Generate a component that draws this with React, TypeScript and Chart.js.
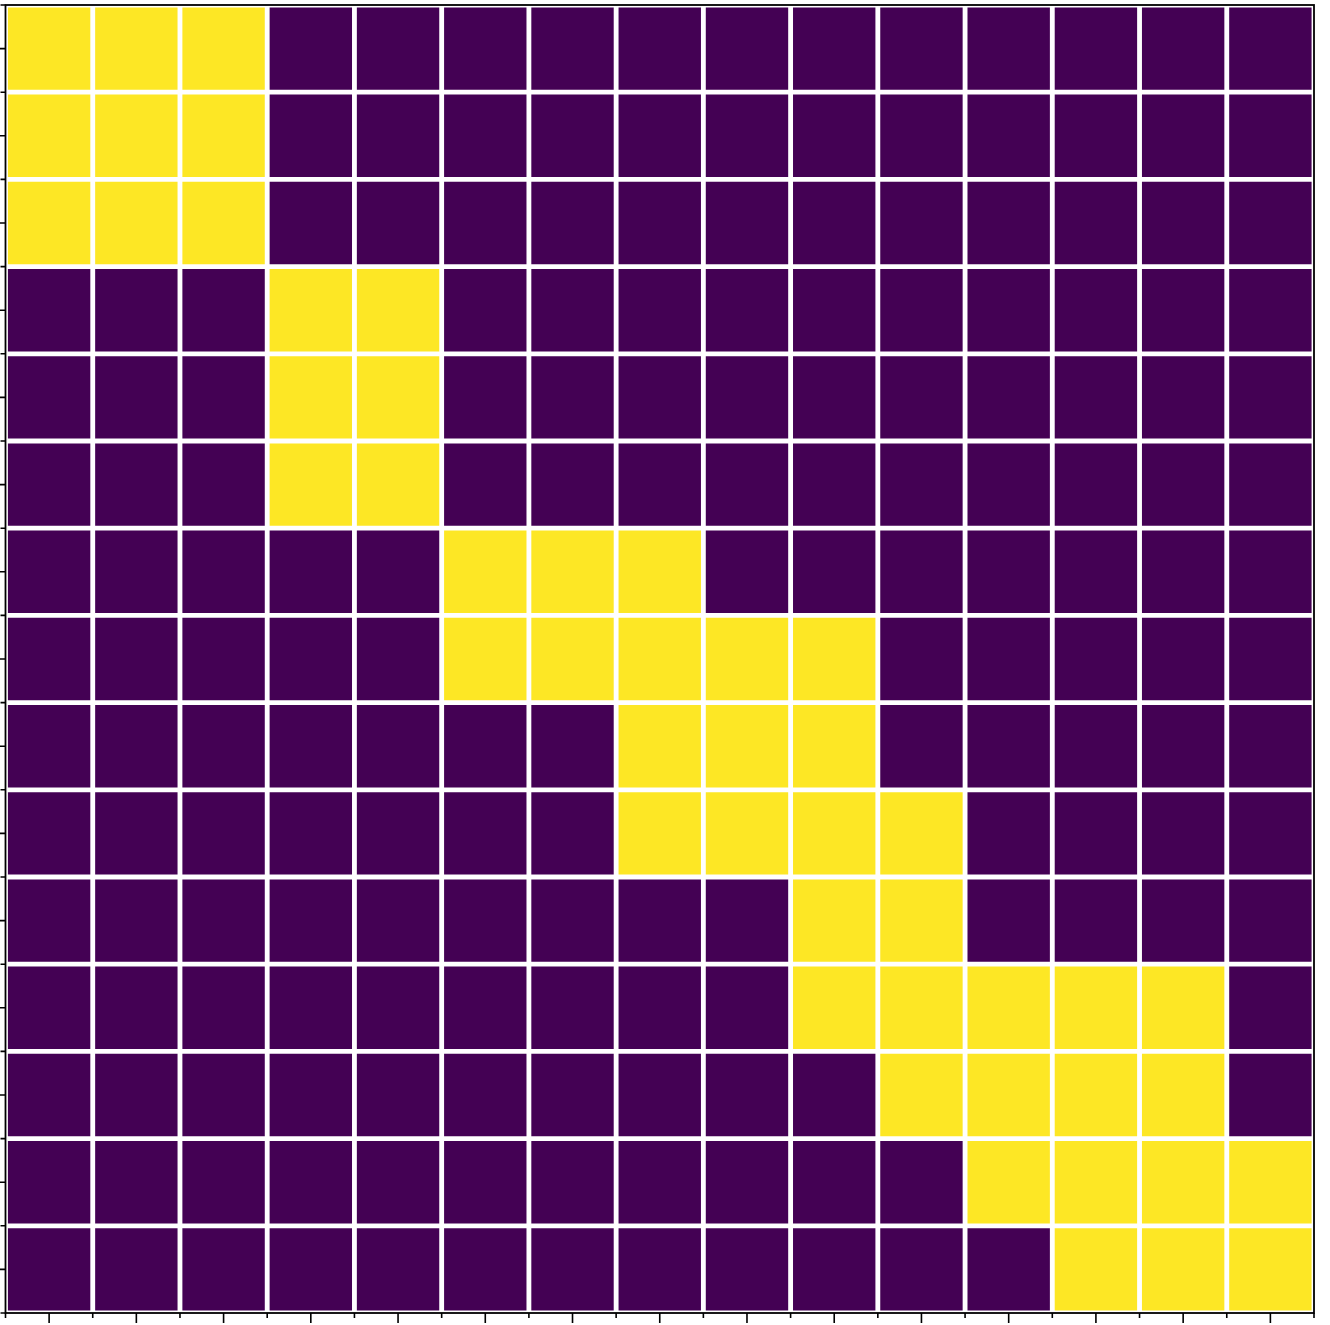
import React, { useEffect, useRef } from "react";
import { Chart, registerables } from "chart.js";

Chart.register(...registerables);

const colLabels: string[] = ["0","1","2","3","4","5","6","7","8","9","10","11","12","13","14"];
const rowLabels: string[] = ["0","1","2","3","4","5","6","7","8","9","10","11","12","13","14"];

// 1 = yellow (high), 0 = purple (low); rows top to bottom
const row0 = [1,1,1,0,0,0,0,0,0,0,0,0,0,0,0];
const row1 = [1,1,1,0,0,0,0,0,0,0,0,0,0,0,0];
const row2 = [1,1,1,0,0,0,0,0,0,0,0,0,0,0,0];
const row3 = [0,0,0,1,1,0,0,0,0,0,0,0,0,0,0];
const row4 = [0,0,0,1,1,0,0,0,0,0,0,0,0,0,0];
const row5 = [0,0,0,1,1,0,0,0,0,0,0,0,0,0,0];
const row6 = [0,0,0,0,0,1,1,1,0,0,0,0,0,0,0];
const row7 = [0,0,0,0,0,1,1,1,1,1,0,0,0,0,0];
const row8 = [0,0,0,0,0,0,0,1,1,1,0,0,0,0,0];
const row9 = [0,0,0,0,0,0,0,1,1,1,1,0,0,0,0];
const row10 = [0,0,0,0,0,0,0,0,0,1,1,0,0,0,0];
const row11 = [0,0,0,0,0,0,0,0,0,1,1,1,1,1,0];
const row12 = [0,0,0,0,0,0,0,0,0,0,1,1,1,1,0];
const row13 = [0,0,0,0,0,0,0,0,0,0,0,1,1,1,1];
const row14 = [0,0,0,0,0,0,0,0,0,0,0,0,1,1,1];

const matrix: number[][] = [row0,row1,row2,row3,row4,row5,row6,row7,row8,row9,row10,row11,row12,row13,row14];

const HIGH = "#fde725";
const LOW = "#440154";

const framePlugin = {
  id: "frameTicks",
  afterDraw(chart: any) {
    const { ctx, chartArea } = chart;
    const xs = chart.scales.x;
    const ys = chart.scales.y;
    const { left, right, top, bottom } = chartArea;
    ctx.save();
    ctx.strokeStyle = "#000";
    ctx.lineWidth = 1.8;
    ctx.strokeRect(left, top, right - left, bottom - top);
    ctx.lineWidth = 1.6;
    ctx.beginPath();
    const n = colLabels.length;
    for (let i = 0; i < n; i++) {
      const c = xs.getPixelForValue(i);
      ctx.moveTo(c, bottom);
      ctx.lineTo(c, bottom + 10);
    }
    for (let i = 0; i <= n; i++) {
      const b = xs.getPixelForValue(i - 0.5);
      ctx.moveTo(b, bottom);
      ctx.lineTo(b, bottom + 5);
    }
    const m = rowLabels.length;
    for (let i = 0; i < m; i++) {
      const c = ys.getPixelForValue(i + 0.5);
      ctx.moveTo(left, c);
      ctx.lineTo(left - 10, c);
    }
    for (let i = 0; i <= m; i++) {
      const b = ys.getPixelForValue(i);
      ctx.moveTo(left, b);
      ctx.lineTo(left - 5, b);
    }
    ctx.stroke();
    ctx.restore();
  },
};

export default function App() {
  const ref = useRef<HTMLCanvasElement | null>(null);
  useEffect(() => {
    if (!ref.current) return;
    document.body.style.margin = "0";
    const datasets = matrix.map((row, r) => ({
      label: rowLabels[r],
      data: row.map(() => 1),
      backgroundColor: row.map((v) => (v ? HIGH : LOW)),
      borderColor: "#ffffff",
      borderWidth: 2.75,
      borderSkipped: false as any,
      categoryPercentage: 1,
      barPercentage: 1,
      stack: "grid",
    }));
    const chart = new Chart(ref.current, {
      type: "bar",
      data: { labels: colLabels, datasets },
      options: {
        responsive: false,
        animation: false,
        devicePixelRatio: 1,
        layout: { padding: { left: 5.5, top: 5, right: 16, bottom: 12 } },
        plugins: { legend: { display: false }, tooltip: { enabled: false } },
        scales: {
          x: { stacked: true, display: false, offset: true },
          y: { type: "linear", stacked: true, display: false, min: 0, max: 15, reverse: true },
        },
      },
      plugins: [framePlugin],
    });
    return () => chart.destroy();
  }, []);
  return (
    <div style={{ position: "absolute", left: 0, top: 0, width: 1330, height: 1325, background: "#fff" }}>
      <canvas ref={ref} width={1330} height={1325} />
    </div>
  );
}
